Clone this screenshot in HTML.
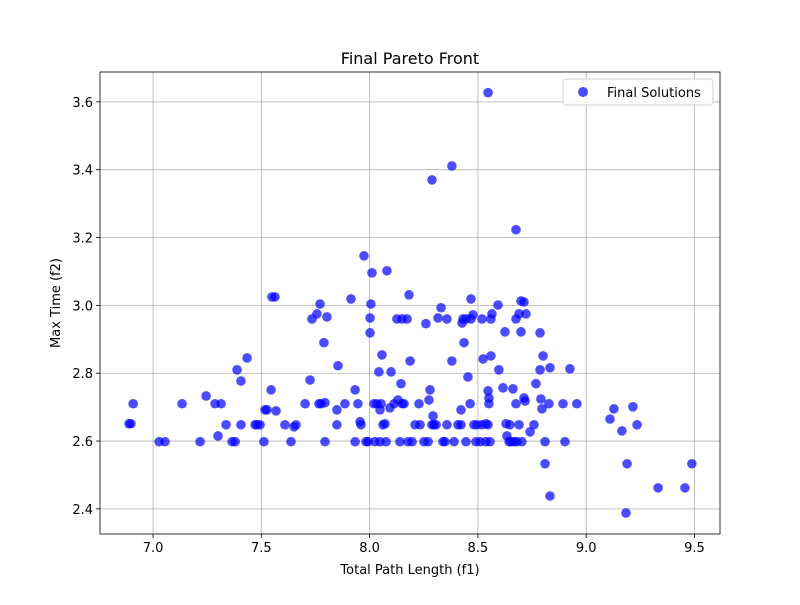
<!DOCTYPE html>
<html><head><meta charset="utf-8"><style>
body{margin:0;background:#fff;font-family:"Liberation Sans","DejaVu Sans",sans-serif;}
text{font-family:"DejaVu Sans","Liberation Sans",sans-serif;}
</style></head><body>
<svg id="chart" width="800" height="600" xmlns="http://www.w3.org/2000/svg">
<rect width="800" height="600" fill="#fff"/>
<g id="grid"></g>
<g id="points"></g>
<g id="axes"></g>
<text x="410" y="64" text-anchor="middle" font-size="16">Final Pareto Front</text>
<text x="410" y="574" text-anchor="middle" font-size="13">Total Path Length (f1)</text>
<text transform="translate(60,303) rotate(-90)" text-anchor="middle" font-size="13">Max Time (f2)</text>
<g>
<rect x="563" y="79" width="150" height="26" rx="3" fill="#fff" fill-opacity="0.8" stroke="#d0d0d0"/>
<circle cx="583" cy="92" r="5" fill="#0000ff" fill-opacity="0.7"/>
<text x="607" y="97" font-size="13">Final Solutions</text>
</g>
</svg>
<script>
const xTicks=[7.0,7.5,8.0,8.5,9.0,9.5];
const yTicks=[2.4,2.6,2.8,3.0,3.2,3.4,3.6];
const xVals=[6.889,6.898,6.908,7.028,7.055,7.134,7.217,7.245,7.286,7.300,7.314,7.337,7.365,7.379,7.388,7.406,7.406,7.434,7.471,7.480,7.494,7.512,7.517,7.526,7.545,7.549,7.563,7.568,7.609,7.637,7.651,7.660,7.702,7.725,7.734,7.757,7.766,7.771,7.776,7.794,7.789,7.794,7.803,7.849,7.849,7.854,7.886,7.914,7.933,7.933,7.946,7.956,7.960,7.974,7.983,7.993,8.002,8.002,8.006,8.011,8.020,8.025,8.034,8.043,8.048,8.048,8.053,8.057,8.062,8.071,8.076,8.080,8.094,8.099,8.113,8.126,8.131,8.140,8.145,8.150,8.150,8.159,8.173,8.177,8.182,8.187,8.196,8.210,8.228,8.233,8.251,8.270,8.260,8.274,8.279,8.288,8.288,8.293,8.297,8.307,8.316,8.330,8.339,8.348,8.357,8.357,8.380,8.380,8.390,8.408,8.422,8.422,8.427,8.431,8.436,8.445,8.445,8.454,8.464,8.468,8.468,8.477,8.482,8.491,8.496,8.510,8.519,8.519,8.524,8.537,8.537,8.547,8.547,8.547,8.551,8.551,8.556,8.560,8.560,8.565,8.597,8.593,8.616,8.625,8.630,8.634,8.644,8.648,8.653,8.662,8.667,8.676,8.676,8.676,8.680,8.690,8.690,8.699,8.703,8.699,8.713,8.713,8.718,8.722,8.741,8.759,8.768,8.787,8.787,8.791,8.796,8.801,8.810,8.810,8.828,8.833,8.833,8.893,8.902,8.925,8.957,9.110,9.128,9.165,9.184,9.189,9.216,9.235,9.332,9.456,9.488];
const yVals=[2.651,2.651,2.710,2.598,2.598,2.710,2.598,2.733,2.710,2.615,2.710,2.648,2.598,2.598,2.810,2.777,2.648,2.845,2.648,2.648,2.648,2.598,2.692,2.692,2.751,3.025,3.025,2.689,2.648,2.598,2.642,2.648,2.710,2.780,2.960,2.975,2.710,3.004,2.710,2.713,2.890,2.598,2.966,2.648,2.692,2.822,2.710,3.019,2.751,2.598,2.710,2.657,2.648,3.146,2.598,2.598,2.919,2.963,3.004,3.096,2.710,2.598,2.710,2.804,2.598,2.692,2.710,2.854,2.648,2.651,2.598,3.102,2.698,2.804,2.710,2.960,2.721,2.598,2.769,2.710,2.960,2.710,2.960,2.598,3.031,2.836,2.598,2.648,2.710,2.648,2.598,2.598,2.946,2.721,2.751,3.370,2.648,2.674,2.648,2.648,2.963,2.993,2.598,2.598,2.960,2.648,3.411,2.836,2.598,2.648,2.648,2.692,2.948,2.960,2.890,2.598,2.960,2.789,2.710,2.960,3.019,2.972,2.648,2.598,2.648,2.598,2.960,2.648,2.842,2.651,2.598,3.627,2.748,2.648,2.727,2.710,2.598,2.960,2.851,2.975,2.810,3.001,2.757,2.922,2.651,2.615,2.598,2.648,2.598,2.754,2.598,3.223,2.960,2.710,2.598,2.648,2.975,2.922,2.598,3.013,3.010,2.727,2.718,2.975,2.627,2.648,2.769,2.919,2.810,2.724,2.695,2.851,2.598,2.533,2.710,2.816,2.438,2.710,2.598,2.813,2.710,2.665,2.695,2.630,2.388,2.533,2.701,2.648,2.462,2.462,2.533];
const L=100,R=720,T=72,B=534;
const xMin=6.755,xMax=9.618,yMin=2.326,yMax=3.688;
const sx=v=>L+(v-xMin)/(xMax-xMin)*(R-L);
const sy=v=>B-(v-yMin)/(yMax-yMin)*(B-T);
const NS="http://www.w3.org/2000/svg";
function mk(tag,attrs,parent){const e=document.createElementNS(NS,tag);for(const k in attrs)e.setAttribute(k,attrs[k]);parent.appendChild(e);return e;}
const grid=document.getElementById('grid'),axes=document.getElementById('axes'),pts=document.getElementById('points');
xTicks.forEach(t=>{const x=sx(t);
 const g=mk('line',{x1:x,x2:x,y1:T,y2:B,stroke:'#b0b0b0','stroke-width':0.8},grid);
 
 
 mk('line',{x1:x,x2:x,y1:B,y2:B+4,stroke:'#000','stroke-width':0.8},axes);
 const tx=mk('text',{x:x,y:B+18,'text-anchor':'middle','font-size':13},axes);
 tx.textContent=t.toFixed(1);
 
 
});
yTicks.forEach(t=>{const y=sy(t);
 const g=mk('line',{x1:L,x2:R,y1:y,y2:y,stroke:'#b0b0b0','stroke-width':0.8},grid);
 
 
 mk('line',{x1:L-4,x2:L,y1:y,y2:y,stroke:'#000','stroke-width':0.8},axes);
 const tx=mk('text',{x:L-7,y:y+5,'text-anchor':'end','font-size':13},axes);
 tx.textContent=t.toFixed(1);
 
 
});
const fr=mk('rect',{x:L,y:T,width:R-L,height:B-T,fill:'none',stroke:'#000','stroke-width':0.8},axes);


xVals.forEach((v,i)=>{
 const c=mk('circle',{cx:sx(v),cy:sy(yVals[i]),r:4.8,fill:'#0000ff','fill-opacity':0.7},pts);
 
 
});
</script>
</body></html>
